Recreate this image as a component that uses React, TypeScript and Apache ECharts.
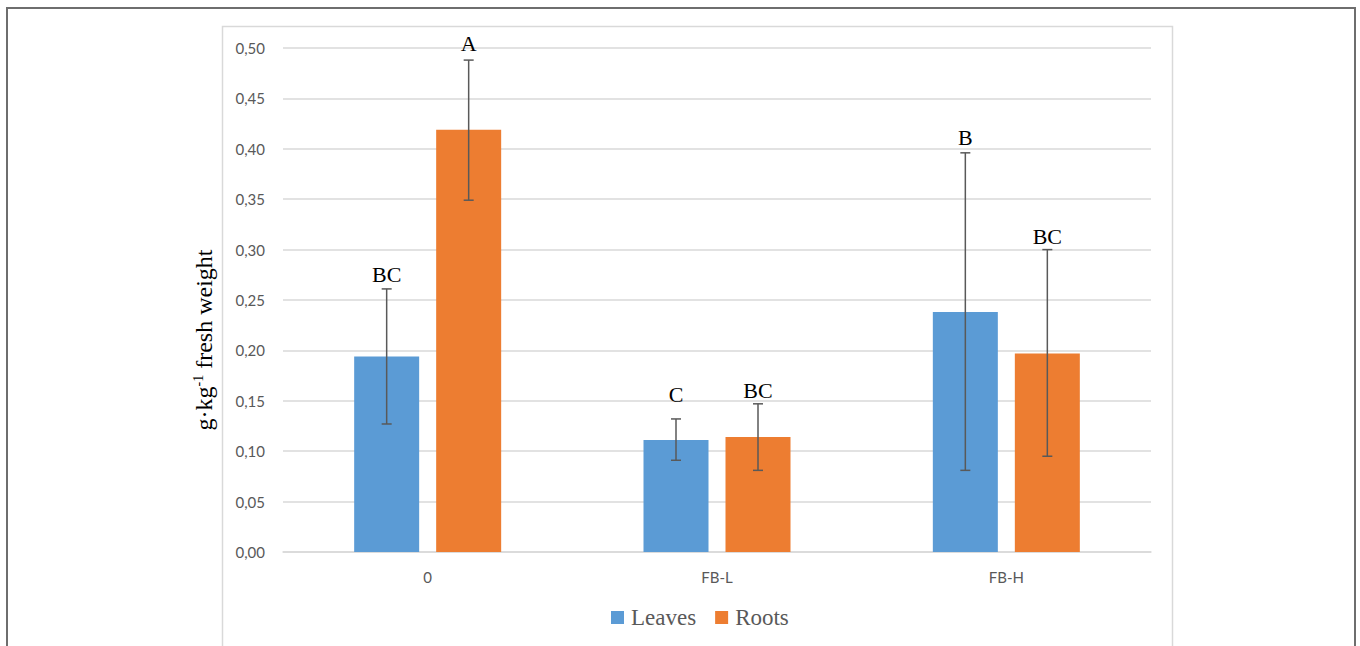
import React, { useEffect, useRef } from "react";
import * as echarts from "echarts";

const categories = ["0", "FB-L", "FB-H"];
const leaves = [0.194, 0.111, 0.238];
const roots = [0.419, 0.114, 0.197];
const leavesErrLow = [0.127, 0.091, 0.081];
const leavesErrHigh = [0.261, 0.132, 0.396];
const rootsErrLow = [0.349, 0.081, 0.095];
const rootsErrHigh = [0.488, 0.147, 0.3];
const leavesLetters = ["BC", "C", "B"];
const rootsLetters = ["A", "BC", "BC"];
const leavesLetterAt = [0.275, 0.156, 0.411];
const rootsLetterAt = [0.504, 0.16, 0.313];

const BLUE = "#5b9bd5";
const ORANGE = "#ed7d31";
const BAR_W = 65;
const BAR_GAP = 17;

function errSeries(name: string, low: number[], high: number[], letters: string[], letterAt: number[], side: number) {
  return {
    type: "custom",
    name: name + "-err",
    silent: true,
    z: 5,
    data: categories.map((c, i) => [i, low[i], high[i], letterAt[i]]),
    renderItem: (params: any, api: any) => {
      const i = api.value(0);
      const off = side * (BAR_W + BAR_GAP) / 2;
      const lo = api.coord([i, api.value(1)]);
      const hi = api.coord([i, api.value(2)]);
      const lt = api.coord([i, api.value(3)]);
      const x = lo[0] + off;
      const stroke = { stroke: "#595959", lineWidth: 1.5 };
      return {
        type: "group",
        children: [
          { type: "line", shape: { x1: x, y1: lo[1], x2: x, y2: hi[1] }, style: stroke },
          { type: "line", shape: { x1: x - 5, y1: lo[1], x2: x + 5, y2: lo[1] }, style: stroke },
          { type: "line", shape: { x1: x - 5, y1: hi[1], x2: x + 5, y2: hi[1] }, style: stroke },
          {
            type: "text",
            x: x,
            y: lt[1],
            style: {
              text: letters[params.dataIndex],
              fill: "#000",
              font: "22px 'Liberation Serif', 'DejaVu Serif', serif",
              align: "center",
              verticalAlign: "middle",
            },
          },
        ],
      };
    },
  };
}

export default function App() {
  const ref = useRef<HTMLDivElement>(null);
  useEffect(() => {
    const chart = echarts.init(ref.current!, null, { renderer: "svg" });
    chart.setOption({
      animation: false,
      backgroundColor: "#fff",
      grid: { left: 283, right: 209, top: 48, bottom: 94 },
      xAxis: {
        type: "category",
        data: categories,
        axisLine: { lineStyle: { color: "#d9d9d9", width: 1.5 } },
        axisTick: { show: false },
        axisLabel: { color: "#595959", fontSize: 15, fontFamily: "Lato, 'Open Sans', sans-serif", margin: 17 },
      },
      yAxis: {
        type: "value",
        min: 0,
        max: 0.5,
        interval: 0.05,
        axisLine: { show: false },
        axisTick: { show: false },
        splitLine: { lineStyle: { color: "#d9d9d9", width: 1.5 } },
        axisLabel: {
          color: "#595959",
          fontSize: 15,
          fontFamily: "Lato, 'Open Sans', sans-serif",
          margin: 18,
          formatter: (v: number) => v.toFixed(2).replace(".", ","),
        },
      },
      legend: {
        bottom: 12,
        left: 606,
        itemWidth: 13,
        itemHeight: 13,
        itemGap: 19,
        icon: "rect",
        data: ["Leaves", "Roots"],
        textStyle: { color: "#595959", fontSize: 23, fontFamily: "'Liberation Serif', serif", padding: [0, 0, 0, 2] },
      },
      graphic: [
        {
          type: "rect",
          shape: { x: 7, y: 8, width: 1348, height: 700 },
          style: { fill: "none", stroke: "#6e6e6e", lineWidth: 2 },
          silent: true,
        },
        {
          type: "rect",
          shape: { x: 222.5, y: 26.5, width: 950, height: 700 },
          style: { fill: "none", stroke: "#d9d9d9", lineWidth: 1.5 },
          silent: true,
        },
        {
          type: "text",
          x: 204,
          y: 340,
          rotation: Math.PI / 2,
          style: {
            text: "g·kg{sup|-1} fresh weight",
            fill: "#000",
            font: "24px 'Liberation Serif', serif",
            align: "center",
            verticalAlign: "middle",
            rich: {
              sup: { fontSize: 14, verticalAlign: "top", padding: [0, 0, 12, 0], fontFamily: "'Liberation Serif', serif", fill: "#000" },
            },
          },
          silent: true,
        },
      ],
      series: [
        {
          type: "bar",
          name: "Leaves",
          data: leaves,
          barWidth: BAR_W,
          barGap: (BAR_GAP / BAR_W) * 100 + "%",
          itemStyle: { color: BLUE },
        },
        {
          type: "bar",
          name: "Roots",
          data: roots,
          barWidth: BAR_W,
          barGap: (BAR_GAP / BAR_W) * 100 + "%",
          itemStyle: { color: ORANGE },
        },
        errSeries("Leaves", leavesErrLow, leavesErrHigh, leavesLetters, leavesLetterAt, -1),
        errSeries("Roots", rootsErrLow, rootsErrHigh, rootsLetters, rootsLetterAt, 1),
      ],
    });
    return () => chart.dispose();
  }, []);
  return <div ref={ref} style={{ position: "fixed", left: 0, top: 0, width: 1360, height: 646 }} />;
}
